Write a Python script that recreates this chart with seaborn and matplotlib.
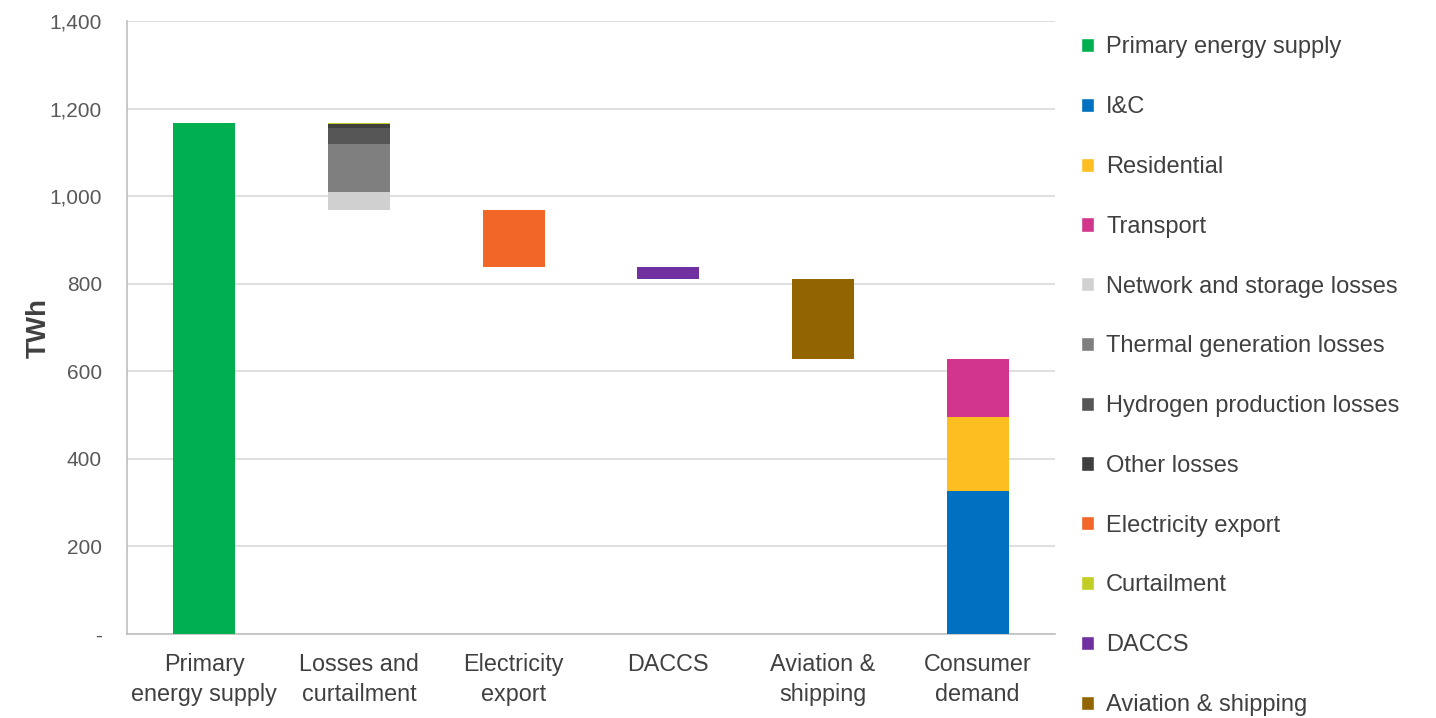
import numpy as np
import pandas as pd
import matplotlib.pyplot as plt
import seaborn as sns
from matplotlib.patches import Patch
from matplotlib.ticker import FuncFormatter

categories = ["Primary\nenergy supply", "Losses and\ncurtailment", "Electricity\nexport",
              "DACCS", "Aviation &\nshipping", "Consumer\ndemand"]

primary_supply = 1167
loss_names = ["Network and storage losses", "Thermal generation losses",
              "Hydrogen production losses", "Other losses", "Curtailment"]
loss_values = [41, 110, 37, 8, 3]
electricity_export = 130
daccs = 28
aviation_shipping = 182
demand_names = ["I&C", "Residential", "Transport"]
demand_values = [327, 169, 132]

colors = {
    "Primary energy supply": "#00B050",
    "I&C": "#0070C0",
    "Residential": "#FDBE22",
    "Transport": "#D2368C",
    "Network and storage losses": "#D0D0D0",
    "Thermal generation losses": "#7F7F7F",
    "Hydrogen production losses": "#565656",
    "Other losses": "#3F3F3F",
    "Electricity export": "#F26727",
    "Curtailment": "#C0CD22",
    "DACCS": "#7030A0",
    "Aviation & shipping": "#936500",
}
legend_order = ["Primary energy supply", "I&C", "Residential", "Transport",
                "Network and storage losses", "Thermal generation losses",
                "Hydrogen production losses", "Other losses", "Electricity export",
                "Curtailment", "DACCS", "Aviation & shipping"]

# build waterfall segments (category index, series, value, base)
rows = [(0, "Primary energy supply", primary_supply, 0)]
level = primary_supply - sum(loss_values)
base = level
for name, v in zip(loss_names, loss_values):
    rows.append((1, name, v, base))
    base += v
level -= electricity_export
rows.append((2, "Electricity export", electricity_export, level))
level -= daccs
rows.append((3, "DACCS", daccs, level))
level -= aviation_shipping
rows.append((4, "Aviation & shipping", aviation_shipping, level))
base = 0
for name, v in zip(demand_names, demand_values):
    rows.append((5, name, v, base))
    base += v
df = pd.DataFrame(rows, columns=["pos", "series", "value", "base"])

sns.set_theme(style="whitegrid")
plt.rcParams['font.family'] = ['Liberation Sans', 'DejaVu Sans']

fig = plt.figure(figsize=(14.36, 7.18), dpi=100)
ax = fig.add_axes([127 / 1436, 1 - 634 / 718, 928 / 1436, 613 / 718])

for _, r in df.iterrows():
    ax.bar(r["pos"], r["value"], bottom=r["base"], width=0.4,
           color=colors[r["series"]], linewidth=0, zorder=3)

ax.set_xlim(-0.5, len(categories) - 0.5)
ax.set_ylim(0, 1400)
ax.set_yticks(np.arange(0, 1401, 200))
ax.yaxis.set_major_formatter(FuncFormatter(lambda v, p: "-" if v == 0 else f"{v:,.0f}"))
ax.set_xticks(range(len(categories)))
ax.set_xticklabels(categories, fontsize=16.8, color="#404040", linespacing=1.38)
ax.tick_params(axis="y", labelsize=15, labelcolor="#595959", length=0, pad=18)
ax.tick_params(axis="x", length=0, pad=14)
ax.grid(axis="y", color="#D9D9D9", linewidth=1.2, zorder=0)
ax.grid(axis="x", visible=False)
for s in ["top", "right"]:
    ax.spines[s].set_visible(False)
for s in ["left", "bottom"]:
    ax.spines[s].set_color("#BFBFBF")
    ax.spines[s].set_linewidth(1.2)
ax.set_ylabel("TWh", fontsize=20, fontweight="bold", color="#404040")
ax.yaxis.set_label_coords(-0.081, 0.5)

handles = [Patch(facecolor=colors[n], label=n) for n in legend_order]
leg = fig.legend(handles=handles, loc="upper left", bbox_to_anchor=(1072 / 1436, 1 - 27 / 718),
                 frameon=False, fontsize=17, labelspacing=1.6, handlelength=0.55,
                 handleheight=0.55, handletextpad=0.5, borderaxespad=0)
for t in leg.get_texts():
    t.set_color("#404040")

fig.savefig("out.png", dpi=100)
